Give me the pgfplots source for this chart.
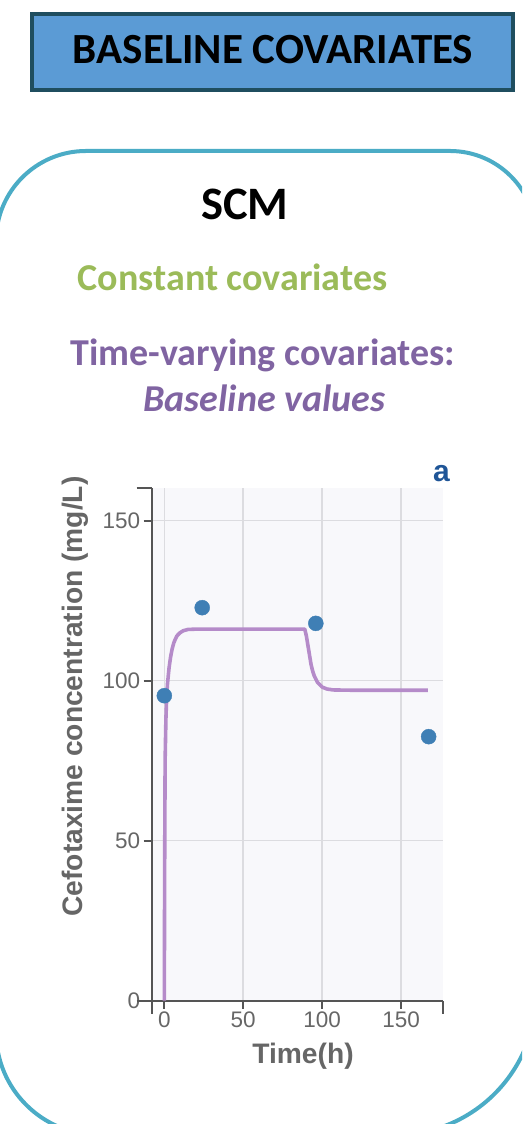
\documentclass[border=0pt]{standalone}
\usepackage{fontspec}
\setmainfont{Carlito}
\newfontfamily\arial{Liberation Sans}
\usepackage{pgfplots}
\pgfplotsset{compat=1.18}
\definecolor{titlefill}{HTML}{5B9BD5}
\definecolor{titleborder}{HTML}{1F4E5F}
\definecolor{boxcol}{HTML}{4BACC6}
\definecolor{green1}{HTML}{9BBB59}
\definecolor{purple1}{HTML}{8064A2}
\definecolor{axisgray}{HTML}{555555}
\definecolor{labelgray}{HTML}{666666}
\definecolor{gridgray}{HTML}{DCDCE0}
\definecolor{bgcol}{HTML}{F8F8FB}
\definecolor{ptblue}{HTML}{3F7FB5}
\definecolor{linepurple}{HTML}{B58BC9}
\definecolor{ablue}{HTML}{1F5597}
\begin{document}
\begin{tikzpicture}[x=1pt,y=1pt]
\useasboundingbox (0,0) rectangle (522,1124);
\begin{scope}
\clip (0,0) rectangle (522,1124);
\draw[boxcol, line width=4pt] (86,973) -- (450,973) arc[start angle=90, end angle=0, radius=86]
  -- (536,130) arc[start angle=0, end angle=-90, radius=141]
  -- (99,-11) arc[start angle=270, end angle=180, radius=103]
  -- (-4,883) arc[start angle=180, end angle=90, radius=90] -- cycle;
\end{scope}
\draw[titleborder, line width=4pt, fill=titlefill] (32,1110) rectangle (513,1034);
\node[anchor=base, inner sep=0pt, font=\bfseries\fontsize{43}{43}\selectfont] at (273,1060.7) {BASELINE COVARIATES};
\node[anchor=base, inner sep=0pt, font=\bfseries\fontsize{46.5}{46.5}\selectfont] at (245,904) {SCM};
\node[anchor=base, inner sep=0pt, text=green1, font=\bfseries\fontsize{38}{38}\selectfont] at (232.5,833.3) {Constant covariates};
\node[anchor=base, inner sep=0pt, text=purple1, font=\bfseries\fontsize{38}{38}\selectfont] at (263,758) {Time-varying covariates:};
\node[anchor=base, inner sep=0pt, text=purple1, font=\bfseries\itshape\fontsize{38}{38}\selectfont] at (264.5,712.3) {Baseline values};
\node[anchor=base, inner sep=0pt, text=ablue, font=\arial\bfseries\fontsize{30}{30}\selectfont] at (441.5,642.3) {a};
\begin{axis}[
  at={(151.7pt,123.3pt)}, anchor=south west,
  scale only axis, width=291pt, height=512.7pt,
  xmin=-8, xmax=176.4, ymin=0, ymax=160.2,
  axis lines=left,
  axis line style={-, color=axisgray, line width=2pt},
  axis background/.style={fill=bgcol},
  grid=major,
  grid style={color=gridgray, line width=1.5pt},
  xtick={0,50,100,150}, ytick={0,50,100,150},
  tick align=outside, major tick length=8pt,
  tick style={color=axisgray, line width=2pt},
  extra x ticks={-8,176.4}, extra x tick labels={},
  extra x tick style={major tick length=13pt, grid=none},
  extra y ticks={0,160.2}, extra y tick labels={},
  extra y tick style={major tick length=15pt, grid=none},
  tick label style={font=\arial\fontsize{22.5}{22.5}\selectfont, text=labelgray},
  /pgf/number format/assume math mode=true,
  xlabel={Time(h)}, ylabel={Cefotaxime concentration (mg/L)},
  label style={font=\arial\bfseries\fontsize{28.2}{28.2}\selectfont, text=labelgray},
  xlabel style={at={(rel axis cs:0.52,-0.1221)}, anchor=base, inner sep=0pt},
  ylabel style={at={(rel axis cs:-0.2395,0.5933)}, anchor=base, inner sep=0pt},
  clip=false,
]
\addplot[linepurple, line width=3.6pt, no marks, line join=round] coordinates {
(0,0) (0.2,40) (0.5,75) (1,88) (1.5,95) (2,99) (3,104) (4,107.5) (5,110) (6,111.8)
(7,113) (8,114) (10,115) (12,115.6) (15,116) (20,116.1) (89,116.1)
(90,114) (91,111) (92,108) (93,105) (94,103) (95,101.5) (97,99.5) (100,98)
(103,97.4) (107,97.1) (120,97) (167,97)
};
\addplot[only marks, mark=*, mark size=7.5pt, color=ptblue, mark options={draw=none, fill=ptblue}] coordinates {
(0,95.3) (24,122.8) (96,117.9) (167.5,82.5)
};
\end{axis}
\end{tikzpicture}
\end{document}
